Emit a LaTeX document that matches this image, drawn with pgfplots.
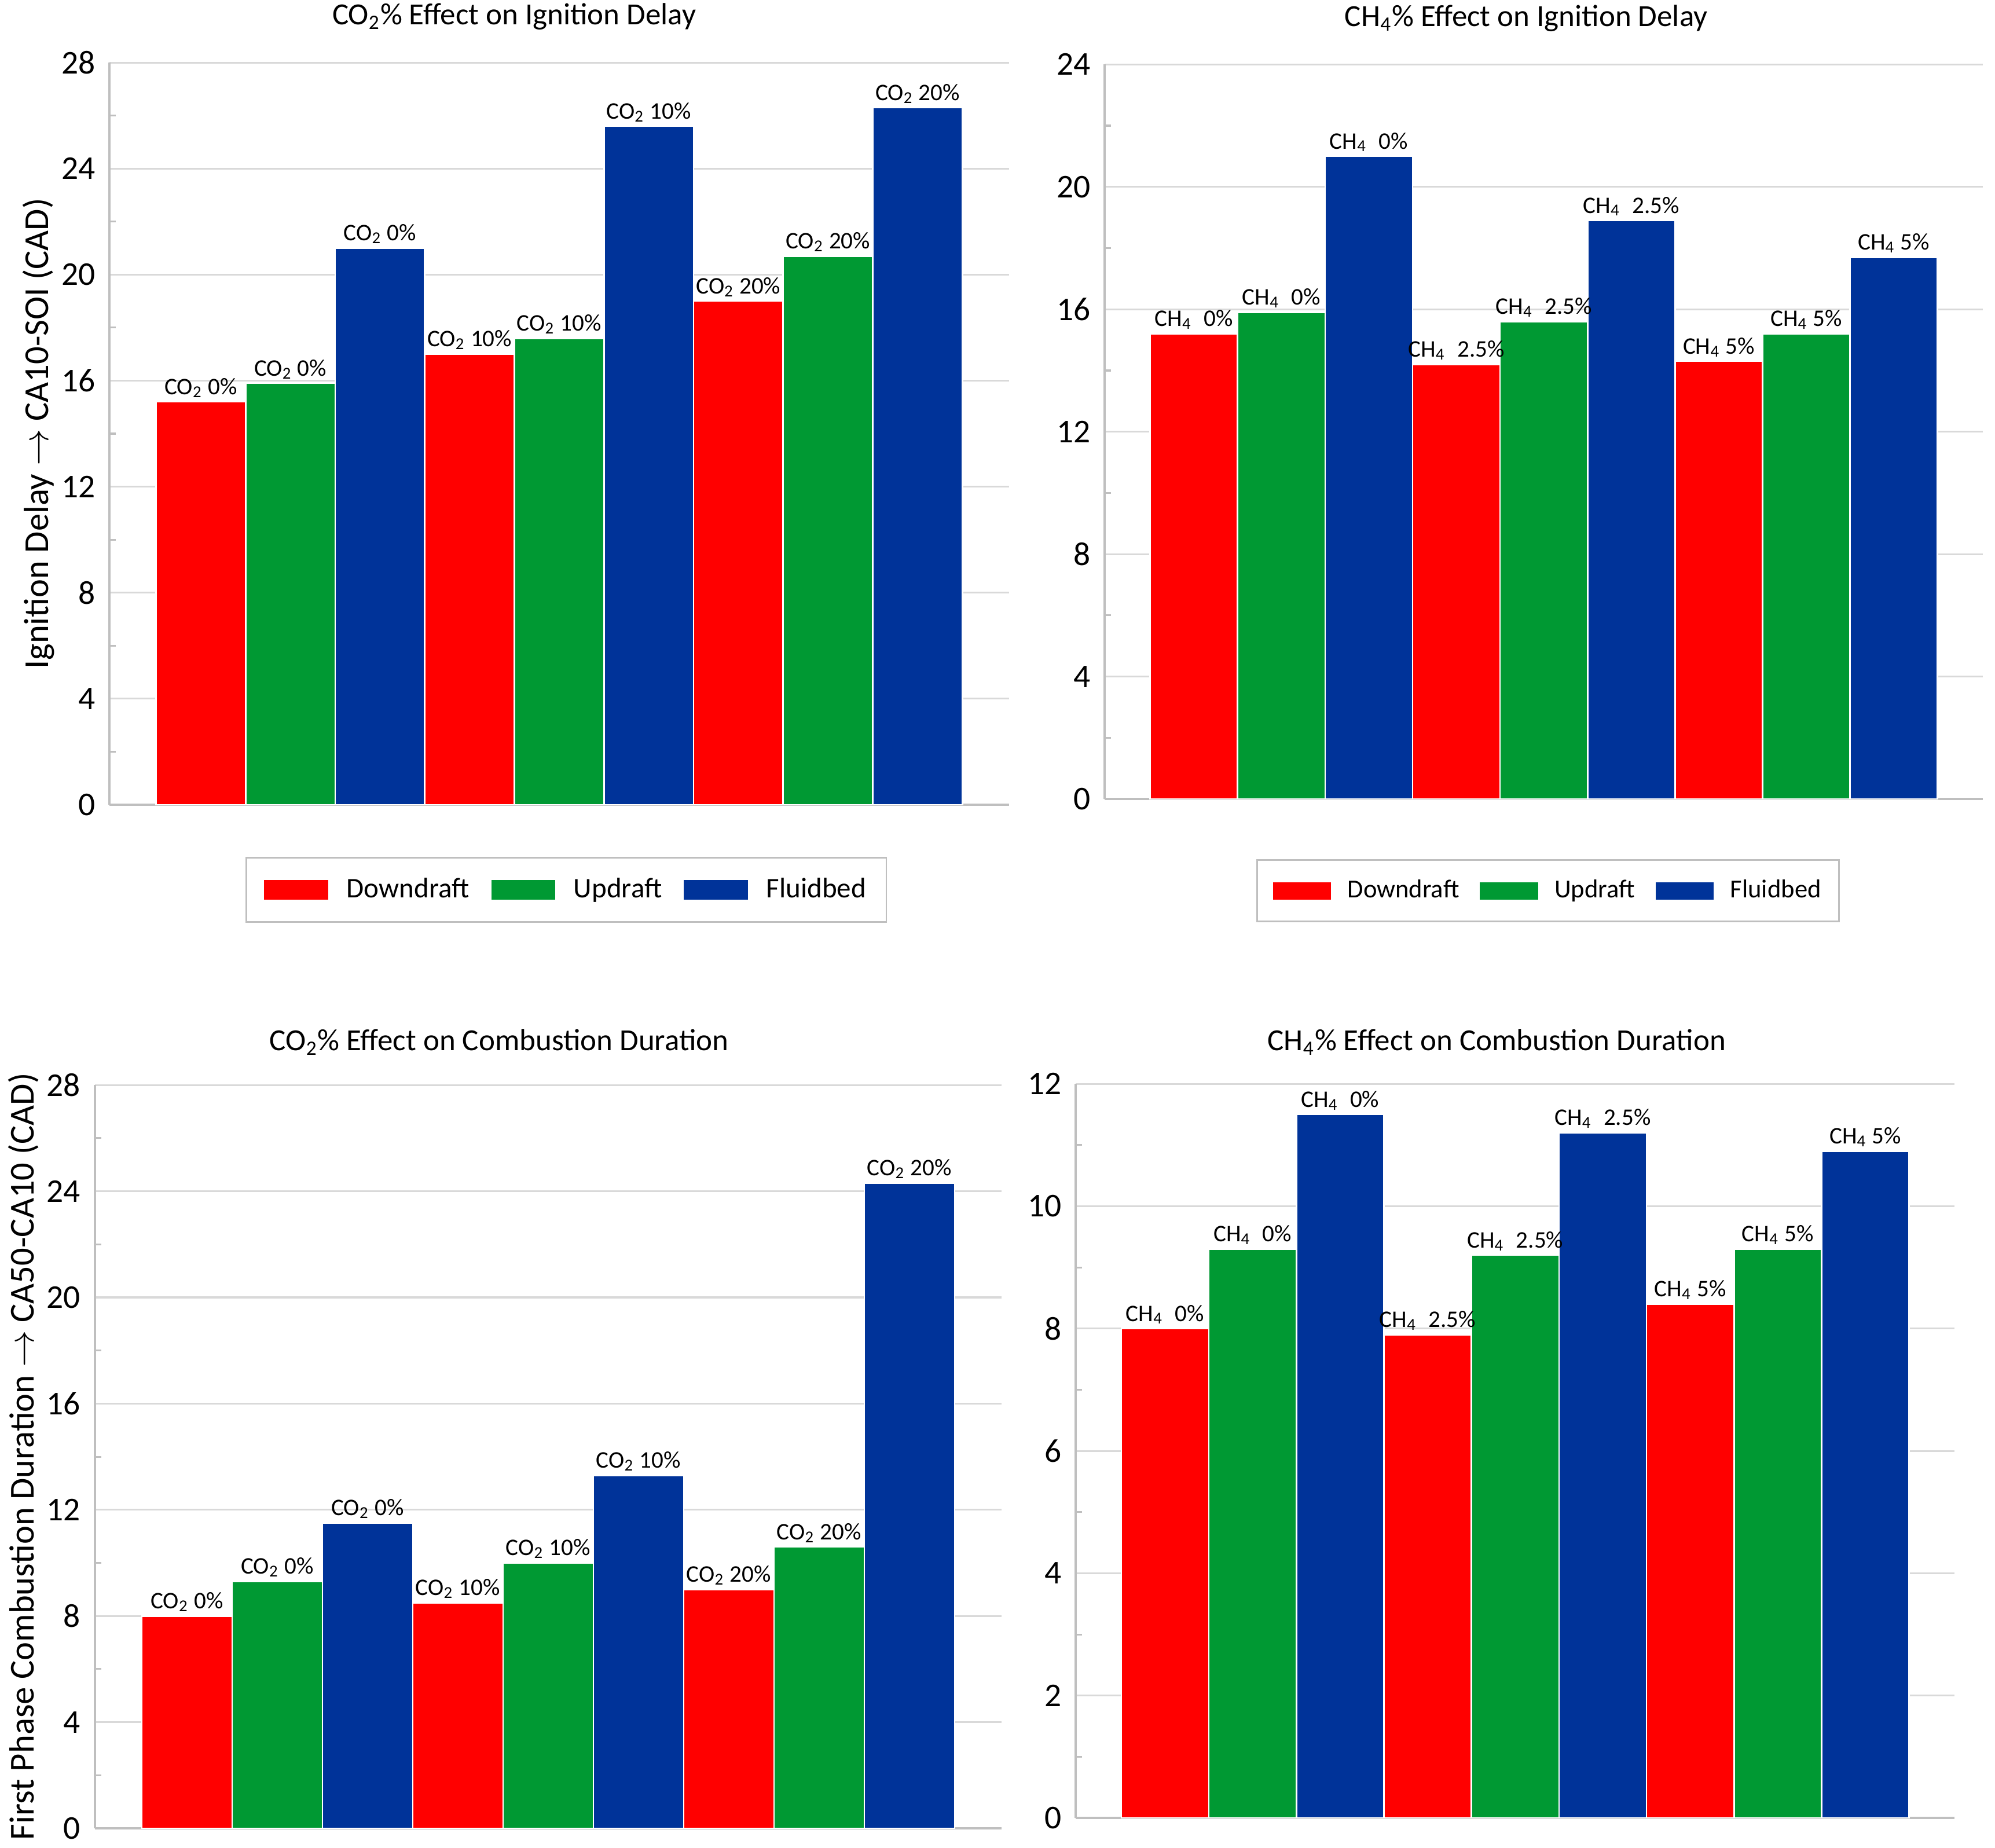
\documentclass[border=0pt]{standalone}
\usepackage{fontspec}
\setmainfont{Carlito}
\usepackage{pgfplots}
\pgfplotsset{compat=1.18}
\definecolor{cRed}{RGB}{255,0,0}
\definecolor{cGreen}{RGB}{0,153,51}
\definecolor{cBlue}{RGB}{0,51,153}
\definecolor{gridc}{RGB}{217,217,217}
\definecolor{axc}{RGB}{191,191,191}
\protected\def\La{CO\textsubscript{2} 0\%}
\protected\def\Lb{CO\textsubscript{2} 10\%}
\protected\def\Lc{CO\textsubscript{2} 20\%}
\protected\def\Ma{CH\textsubscript{4}\enspace 0\%}
\protected\def\Mb{CH\textsubscript{4}\enspace 2.5\%}
\protected\def\Mc{CH\textsubscript{4} 5\%}
\pgfplotsset{
  mybar/.style={
    scale only axis,
    ybar, bar width=1,
    xmin=-1.02, xmax=9.02, ymin=0,
    axis lines*=left,
    axis line style={axc, line width=0.8pt, -},
    xtick=\empty,
    ymajorgrids, grid style={gridc, line width=0.7pt},
    minor y tick num=1,
    major tick length=0pt, minor tick length=2.5pt, tick align=inside,
    minor tick style={axc, line width=0.7pt},
    ytick pos=left,
    /pgf/number format/assume math mode=true,
    yticklabel style={font=\fontsize{13}{15}\selectfont, inner xsep=0pt, xshift=-5.4pt, text=black},
    point meta=explicit symbolic,
    nodes near coords,
    every node near coord/.append style={font=\fontsize{9.3}{11}\selectfont, inner sep=1.5pt, text=black},
    clip=false,
  },
  ttl/.style 2 args={every axis title/.style={at={(axis description cs:#1,1)}, anchor=center, yshift=#2, font=\fontsize{12}{14}\selectfont}},
  yl/.style={every axis y label/.style={at={(axis description cs:#1,0.5)}, rotate=90, anchor=center, font=\fontsize{13.7}{16}\selectfont}},
  sD/.style={fill=cRed, draw=white, line width=0.6pt, bar shift=0pt},
  sU/.style={fill=cGreen, draw=white, line width=0.6pt, bar shift=0pt},
  sF/.style={fill=cBlue, draw=white, line width=0.6pt, bar shift=0pt},
}
\begin{document}
\begin{tikzpicture}
\path[use as bounding box] (0,0) rectangle (780pt,722.3pt);

% ---------- Top left ----------
\begin{axis}[mybar, at={(42.78pt,407.7pt)}, anchor=south west,
  width=351.7pt, height=290.1pt, ymax=28, ytick={0,4,...,28},
  ttl={0.45}{18pt}, title={CO\textsubscript{2}\% Effect on Ignition Delay},
  yl={-0.079}, ylabel={Ignition Delay $\rightarrow$ CA10-SOI (CAD)},
  legend columns=3,
  legend image code/.code={\fill[#1] (0pt,-4.15pt) rectangle (25.6pt,4.15pt);},
  legend style={at={(0.508,0)}, anchor=north, yshift=-20.4pt,
    draw=axc, line width=0.6pt, inner xsep=6.4pt, inner ysep=7pt,
    font=\fontsize{11.1}{13}\selectfont,
    /tikz/every odd column/.append style={column sep=5.1pt},
    /tikz/every even column/.append style={column sep=6.5pt},
    nodes={inner xsep=1.5pt, inner ysep=1pt}},
]
\addplot[sD] coordinates {(0,15.2) [\La] (3,17.0) [\Lb] (6,19.0) [\Lc]};
\addplot[sU] coordinates {(1,15.9) [\La] (4,17.6) [\Lb] (7,20.7) [\Lc]};
\addplot[sF] coordinates {(2,21.0) [\La] (5,25.6) [\Lb] (8,26.3) [\Lc]};
\legend{Downdraft,Updraft,Fluidbed}
\end{axis}

% ---------- Top right ----------
\begin{axis}[mybar, at={(431.9pt,409.9pt)}, anchor=south west,
  width=343.4pt, height=287.2pt, ymax=24, ytick={0,4,...,24},
  ttl={0.48}{18pt}, title={CH\textsubscript{4}\% Effect on Ignition Delay},
  legend columns=3,
  legend image code/.code={\fill[#1] (0pt,-3.7pt) rectangle (23.3pt,3.7pt);},
  legend style={at={(0.505,0)}, anchor=north, yshift=-23.5pt,
    draw=axc, line width=0.6pt, inner xsep=5.5pt, inner ysep=6.8pt,
    font=\fontsize{10.1}{12}\selectfont,
    /tikz/every odd column/.append style={column sep=4.4pt},
    /tikz/every even column/.append style={column sep=6pt},
    nodes={inner xsep=1.5pt, inner ysep=1pt}},
]
\addplot[sD] coordinates {(0,15.2) [\Ma] (3,14.2) [\Mb] (6,14.3) [\Mc]};
\addplot[sU] coordinates {(1,15.9) [\Ma] (4,15.6) [\Mb] (7,15.2) [\Mc]};
\addplot[sF] coordinates {(2,21.0) [\Ma] (5,18.9) [\Mb] (8,17.7) [\Mc]};
\legend{Downdraft,Updraft,Fluidbed}
\end{axis}

% ---------- Bottom left ----------
\begin{axis}[mybar, at={(37.08pt,7.47pt)}, anchor=south west,
  width=354.5pt, height=290.6pt, ymax=28, ytick={0,4,...,28},
  ttl={0.446}{16.8pt}, title={CO\textsubscript{2}\% Effect on Combustion Duration},
  yl={-0.079}, ylabel={First Phase Combustion Duration $\rightarrow$ CA50-CA10 (CAD)},
]
\addplot[sD] coordinates {(0,8.0) [\La] (3,8.5) [\Lb] (6,9.0) [\Lc]};
\addplot[sU] coordinates {(1,9.3) [\La] (4,10.0) [\Lb] (7,10.6) [\Lc]};
\addplot[sF] coordinates {(2,11.5) [\La] (5,13.3) [\Lb] (8,24.3) [\Lc]};
\end{axis}

% ---------- Bottom right ----------
\begin{axis}[mybar, at={(420.6pt,11.54pt)}, anchor=south west,
  width=343.6pt, height=287.0pt, ymax=12, ytick={0,2,...,12},
  ttl={0.479}{16.3pt}, title={CH\textsubscript{4}\% Effect on Combustion Duration},
]
\addplot[sD] coordinates {(0,8.0) [\Ma] (3,7.9) [\Mb] (6,8.4) [\Mc]};
\addplot[sU] coordinates {(1,9.3) [\Ma] (4,9.2) [\Mb] (7,9.3) [\Mc]};
\addplot[sF] coordinates {(2,11.5) [\Ma] (5,11.2) [\Mb] (8,10.9) [\Mc]};
\end{axis}
\end{tikzpicture}
\end{document}
